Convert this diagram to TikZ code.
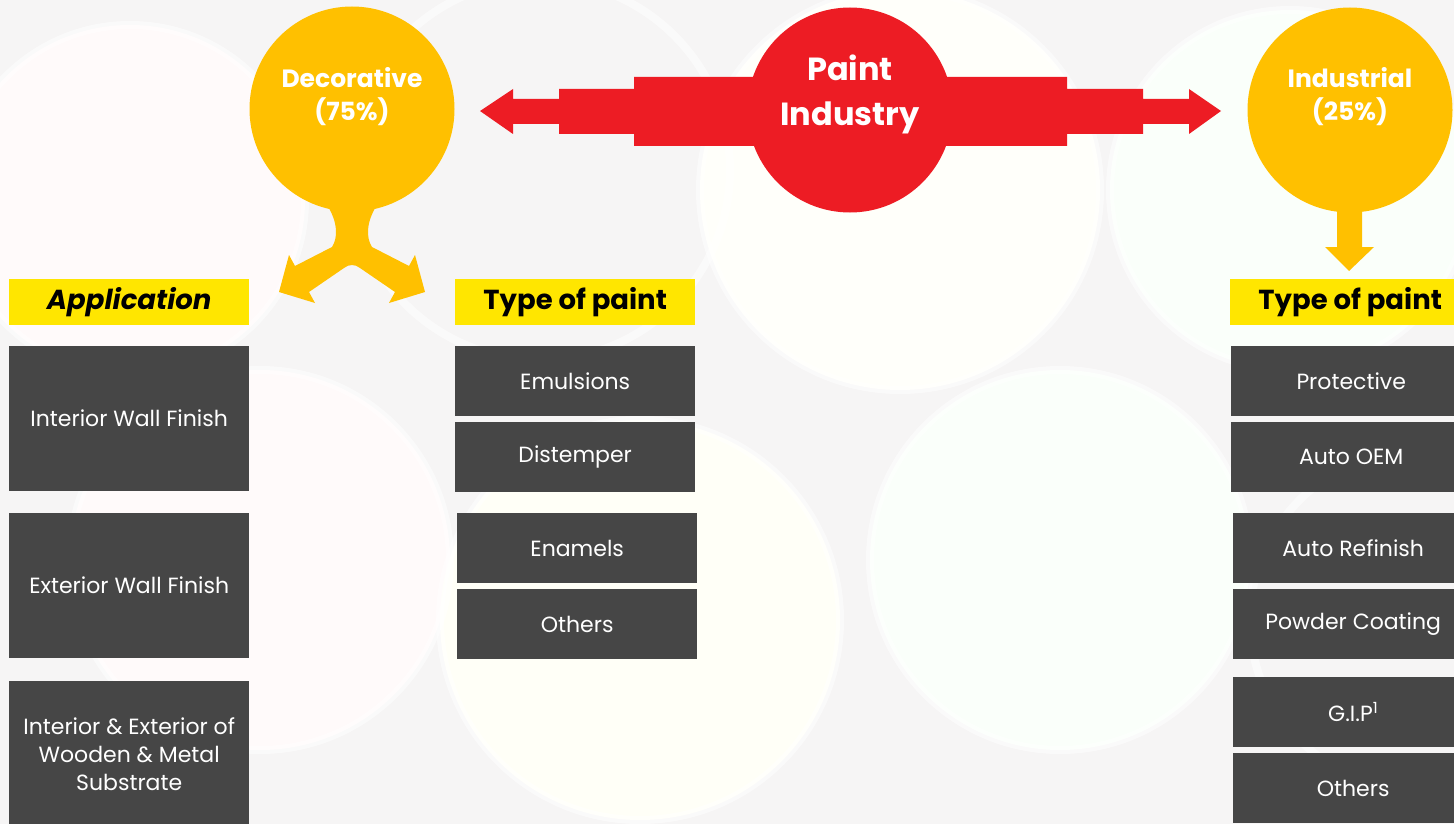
\documentclass[tikz,border=0pt]{standalone}
\usepackage{fontspec}
\setmainfont{Poppins}
\definecolor{bg}{RGB}{246,245,245}
\definecolor{boxgray}{RGB}{70,70,70}
\definecolor{hdryellow}{RGB}{255,230,0}
\definecolor{amber}{RGB}{255,192,0}
\definecolor{redc}{RGB}{237,28,36}
\begin{document}
\begin{tikzpicture}[x=1pt,y=-1pt,
  darkbox/.style={fill=boxgray, text=white, minimum width=240pt, minimum height=70pt,
    inner sep=0pt, font=\fontsize{22}{28}\selectfont, align=center, anchor=north west},
  hdr/.style={fill=hdryellow, text=black, minimum width=240pt, minimum height=46pt,
    inner sep=0pt, font=\bfseries\fontsize{27.5}{30}\selectfont, anchor=north west},
  ring/.style={draw=white, line width=8pt, opacity=0.55},
  bubble/.style={circle, minimum size=205pt, inner sep=0pt},
  bubbletext/.style={text=white, font=\bfseries\fontsize{25}{33}\selectfont, align=center}]
\useasboundingbox (0,0) rectangle (1454,824);
\clip (0,0) rectangle (1454,824);
% background
\fill[bg] (0,0) rectangle (1454,824);
\fill[red!2] (130,200) circle[radius=175pt];
\fill[yellow!2] (900,190) circle[radius=200pt];
\fill[green!2] (1290,190) circle[radius=180pt];
\fill[red!2] (260,560) circle[radius=190pt];
\fill[yellow!3] (640,620) circle[radius=200pt];
\fill[green!2] (1060,560) circle[radius=190pt];
\foreach \cx/\cy/\r in {130/200/175, 540/170/190, 900/190/200, 1290/190/180,
   260/560/190, 640/620/200, 1060/560/190, 1420/620/170}
  \draw[ring] (\cx,\cy) circle[radius=\r pt];
% red double arrow
\fill[redc] (480,111) -- (513,89) -- (513,99) -- (559,99) -- (559,89) -- (634,89) -- (634,77)
  -- (1067,77) -- (1067,89) -- (1143,89) -- (1143,99) -- (1189,99) -- (1189,89) -- (1221,111)
  -- (1189,134) -- (1189,124) -- (1143,124) -- (1143,134) -- (1067,134) -- (1067,146)
  -- (634,146) -- (634,134) -- (559,134) -- (559,124) -- (513,124) -- (513,134) -- cycle;
\node[bubble, fill=redc] (paint) at (850,110) {};
\node[text=white, font=\bfseries\fontsize{32}{45}\selectfont, align=center] (painttext) at (850,94) {Paint\\Industry};
% decorative circle and split arrow
\node[bubble, fill=amber] (deco) at (352,109) {};
\fill[amber] (327,205) .. controls (338,222) and (338,238) .. (332,247) -- (295,266) -- (289,255)
  -- (279,292) -- (315,303) -- (309,292) -- (344,268) .. controls (349,264) and (355,264) .. (360,268)
  -- (395,292) -- (389,303) -- (425,292) -- (415,255) -- (409,266) -- (372,247)
  .. controls (366,238) and (366,222) .. (377,205) -- cycle;
\node[bubbletext] (decotext) at (352,97) {Decorative\\(75\%)};
% industrial circle and arrow
\node[bubble, fill=amber] (indu) at (1350,110) {};
\fill[amber] (1337,200) -- (1337,247) -- (1325,247) -- (1349,271) -- (1374,247) -- (1362,247) -- (1362,200) -- cycle;
\node[bubbletext] (indutext) at (1350,97) {Industrial\\(25\%)};
% headers
\node[hdr] (app) at (9,279) {\itshape Application};
\node[hdr] (typeL) at (455,279) {Type of paint};
\node[hdr] (typeR) at (1230,279) {Type of paint};
% application column
\node[darkbox, minimum height=145pt] (iwf) at (9,346) {Interior Wall Finish};
\node[darkbox, minimum height=145pt] (ewf) at (9,513) {Exterior Wall Finish};
\node[darkbox, minimum height=145pt] (iem) at (9,681) {Interior \& Exterior of\\Wooden \& Metal\\Substrate};
% decorative types
\node[darkbox] (emu) at (455,346) {Emulsions};
\node[darkbox] (dis) at (455,422) {Distemper};
\node[darkbox] (ena) at (457,513) {Enamels};
\node[darkbox] (othL) at (457,589) {Others};
% industrial types
\node[darkbox] (pro) at (1231,346) {Protective};
\node[darkbox] (oem) at (1231,422) {Auto OEM};
\node[darkbox] (ref) at (1233,513) {Auto Refinish};
\node[darkbox] (pow) at (1233,589) {Powder Coating};
\node[darkbox] (gip) at (1233,677) {G.I.P\textsuperscript{1}};
\node[darkbox] (othR) at (1233,753) {Others};
\end{tikzpicture}
\end{document}
